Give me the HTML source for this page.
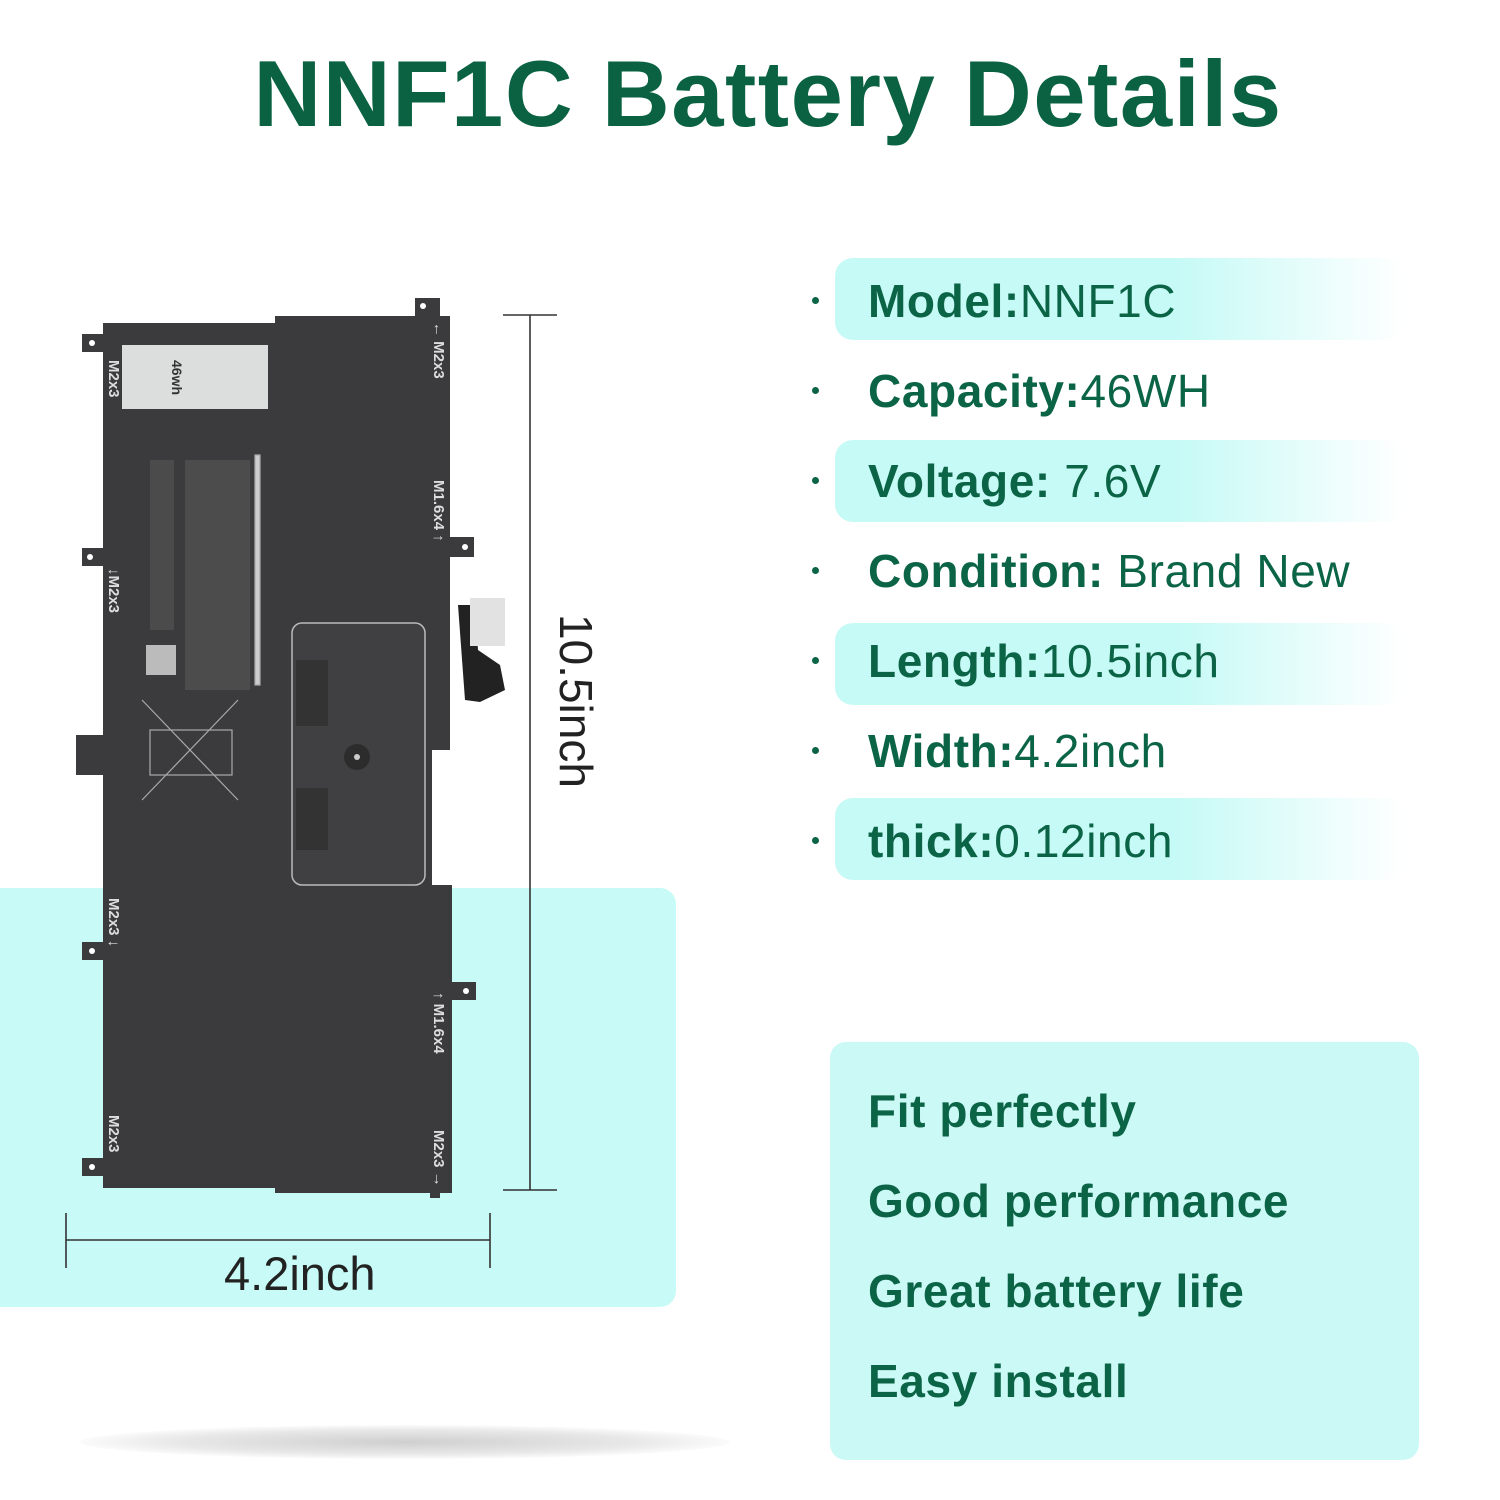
<!DOCTYPE html>
<html><head><meta charset="utf-8"><style>
body{margin:0;width:1500px;height:1500px;background:#fff;position:relative;overflow:hidden;font-family:"Liberation Sans","DejaVu Sans",sans-serif}
.a{position:absolute}
.title{left:0;width:1536px;top:40px;text-align:center;font-size:94px;font-weight:bold;color:#0a6242;letter-spacing:1.5px}
.band{left:835px;width:570px;height:82px;border-radius:18px;background:linear-gradient(90deg,#c6faf6 0%,#c6faf6 60%,#fff 100%)}
.row{left:868px;font-size:46px;color:#0b6446;line-height:1;letter-spacing:0.6px}
.row b{font-weight:bold}
.dot{left:812px;width:7px;height:7px;border-radius:50%;background:#0b6446}
.lbl{color:#ddd;font-size:15px;font-weight:bold;transform:rotate(90deg);transform-origin:left top;white-space:nowrap}
</style></head><body>
<div class="a title">NNF1C Battery Details</div>

<div class="a" style="left:0;top:888px;width:676px;height:419px;background:#c8fbf7;border-radius:0 16px 16px 0"></div>
<div class="a" style="left:830px;top:1042px;width:589px;height:418px;background:#cbf9f6;border-radius:16px"></div>

<div class="a" style="left:80px;top:1425px;width:650px;height:34px;border-radius:50%;background:radial-gradient(ellipse,#cfcfcf 0%,#e8e8e8 50%,rgba(255,255,255,0) 75%)"></div>

<svg class="a" style="left:0;top:0" width="1500" height="1500">
<g fill="#3b3b3d">
<polygon points="103,323 275,323 275,316 450,316 450,750 432,750 432,885 452,885 452,1193 275,1193 275,1188 103,1188"/>
<rect x="82" y="334" width="22" height="18"/><rect x="82" y="548" width="22" height="18"/>
<rect x="76" y="735" width="28" height="40"/><rect x="82" y="942" width="22" height="18"/>
<rect x="82" y="1158" width="22" height="18"/><rect x="415" y="298" width="25" height="20"/>
<rect x="450" y="537" width="24" height="20"/><rect x="450" y="982" width="26" height="18"/>
<rect x="430" y="1190" width="10" height="8"/>
</g>
<g fill="#fff"><circle cx="92" cy="343" r="3"/><circle cx="90" cy="557" r="3"/><circle cx="92" cy="951" r="3"/><circle cx="92" cy="1167" r="3"/><circle cx="423" cy="306" r="3"/><circle cx="465" cy="547" r="3"/><circle cx="466" cy="991" r="3"/></g>
<rect x="122" y="345" width="146" height="64" fill="#dcdedd"/>
<rect x="292" y="623" width="133" height="262" rx="10" fill="#404042" stroke="#bbb" stroke-width="1.5"/>
<rect x="296" y="660" width="32" height="66" fill="#333"/><rect x="296" y="788" width="32" height="62" fill="#333"/>
<circle cx="357" cy="757" r="13" fill="#2c2c2c"/><circle cx="357" cy="757" r="3" fill="#ccc"/>
<path d="M458 605 L475 605 L478 650 L500 665 L505 690 L480 702 L465 700" fill="#222"/>
<rect x="470" y="598" width="35" height="48" fill="#e2e2e2"/>
<g stroke="#aaa" stroke-width="1.2"><rect x="255" y="455" width="5" height="230" fill="#ccc"/>
<line x1="142" y1="700" x2="238" y2="800"/><line x1="238" y1="700" x2="142" y2="800"/>
<rect x="150" y="730" width="82" height="45" fill="none"/></g>
<g fill="#8a8a8a"><rect x="185" y="460" width="65" height="230" opacity=".22"/><rect x="150" y="460" width="24" height="170" opacity=".2"/><rect x="146" y="645" width="30" height="30" fill="#bbb"/></g>
<g stroke="#333" stroke-width="1.6">
<line x1="530" y1="315" x2="530" y2="1190"/><line x1="503" y1="315" x2="557" y2="315"/><line x1="503" y1="1190" x2="557" y2="1190"/>
<line x1="66" y1="1240" x2="490" y2="1240"/><line x1="66" y1="1213" x2="66" y2="1268"/><line x1="490" y1="1213" x2="490" y2="1268"/>
</g>
</svg>
<div class="a lbl" style="left:122px;top:360px">M2x3</div>
<div class="a lbl" style="left:122px;top:568px">↓M2x3</div>
<div class="a lbl" style="left:122px;top:898px">M2x3 ↓</div>
<div class="a lbl" style="left:122px;top:1115px">M2x3</div>
<div class="a lbl" style="left:447px;top:322px">← M2x3</div>
<div class="a lbl" style="left:447px;top:480px">M1.6x4 ↑</div>
<div class="a lbl" style="left:447px;top:992px">↑ M1.6x4</div>
<div class="a lbl" style="left:447px;top:1130px">M2x3 →</div>
<div class="a" style="left:185px;top:360px;font-size:14px;color:#333;transform:rotate(90deg);transform-origin:left top;font-weight:bold">46wh</div>

<div class="a" style="left:603px;top:614px;font-size:46px;color:#222;transform:rotate(90deg);transform-origin:left top;white-space:nowrap">10.5inch</div>
<div class="a" style="left:224px;top:1246px;font-size:47px;color:#222">4.2inch</div>

<div class="a band" style="top:258px"></div>
<div class="a band" style="top:440px"></div>
<div class="a band" style="top:623px"></div>
<div class="a band" style="top:798px"></div>
<div class="a dot" style="top:297px"></div><div class="a dot" style="top:387px"></div>
<div class="a dot" style="top:477px"></div><div class="a dot" style="top:567px"></div>
<div class="a dot" style="top:657px"></div><div class="a dot" style="top:747px"></div>
<div class="a dot" style="top:837px"></div>
<div class="a row" style="top:278px"><b>Model:</b>NNF1C</div>
<div class="a row" style="top:368px"><b>Capacity:</b>46WH</div>
<div class="a row" style="top:458px"><b>Voltage:</b> 7.6V</div>
<div class="a row" style="top:548px"><b>Condition:</b> Brand New</div>
<div class="a row" style="top:638px"><b>Length:</b>10.5inch</div>
<div class="a row" style="top:728px"><b>Width:</b>4.2inch</div>
<div class="a row" style="top:818px"><b>thick:</b>0.12inch</div>

<div class="a row" style="top:1088px;font-weight:bold">Fit perfectly</div>
<div class="a row" style="top:1178px;font-weight:bold">Good performance</div>
<div class="a row" style="top:1268px;font-weight:bold">Great battery life</div>
<div class="a row" style="top:1358px;font-weight:bold">Easy install</div>
</body></html>
